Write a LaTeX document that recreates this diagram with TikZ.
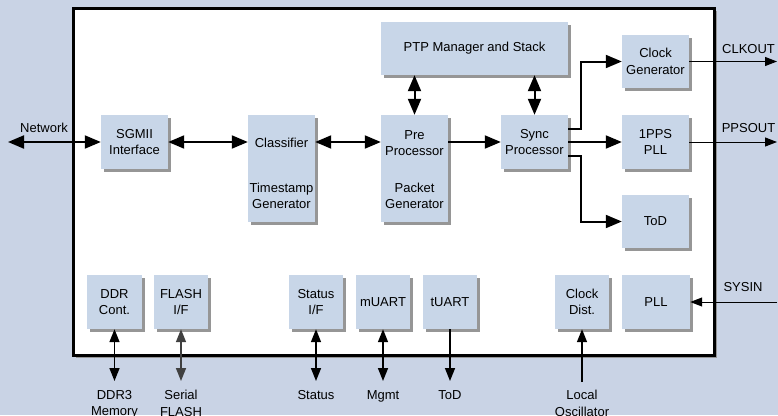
\documentclass[tikz,border=0pt]{standalone}
\usepackage{fontspec}
\setmainfont{Liberation Sans}
\usepackage{tikz}
\usetikzlibrary{arrows.meta}
\usetikzlibrary{shadows}
\definecolor{bgblue}{RGB}{201,211,229}
\definecolor{boxblue}{RGB}{200,214,232}
\definecolor{shadegray}{RGB}{150,150,150}

\begin{document}
\begin{tikzpicture}[x=1pt,y=-1pt,
  blk/.style={fill=boxblue, inner sep=0pt, align=center,
    font=\fontsize{13}{16.5}\selectfont,
    drop shadow={shadow xshift=3pt, shadow yshift=-3pt, fill=shadegray, opacity=1}},
  txt/.style={inner sep=0pt, align=center, font=\fontsize{13}{16.5}\selectfont},
  bigarr/.style={line width=2pt, >={Triangle[length=16pt,width=13pt]}},
  padarr/.style={line width=1.5pt, >={Triangle[length=13pt,width=10pt]}},
  pinarr/.style={line width=1pt, >={Triangle[length=12pt,width=9pt]}}]

\fill [color=bgblue] (0,0) rectangle (778,415);
\useasboundingbox (0,0) rectangle (778,415);

% chip outline
\filldraw [fill=white, draw=black, line width=3pt,
  drop shadow={shadow xshift=3pt, shadow yshift=-3pt, fill=shadegray, opacity=1}]
  (73,8) rectangle (714,355);

% upper blocks
\node [blk, minimum width=187pt, minimum height=53pt] (ptp) at (474.5,48.5) {PTP Manager and Stack};
\node [blk, minimum width=67pt, minimum height=54pt] (sgmii) at (134.5,142) {SGMII\\Interface};
\node [blk, minimum width=67pt, minimum height=107pt] (cls) at (281.5,168.5) {};
\node [blk, minimum width=67pt, minimum height=107pt] (pre) at (414.5,168.5) {};
\node [blk, minimum width=67pt, minimum height=54pt] (sync) at (534.5,142) {Sync\\Processor};
\node [blk, minimum width=67pt, minimum height=53pt] (clk) at (655.5,61.5) {Clock\\Generator};
\node [blk, minimum width=67pt, minimum height=54pt] (pps) at (655.5,142) {1PPS\\PLL};
\node [blk, minimum width=67pt, minimum height=53pt] (tod) at (655.5,221.5) {ToD};

\node [txt] (clsname) at (281.5,143) {Classifier};
\node [txt] (clsts) at (281.5,196) {Timestamp\\Generator};
\node [txt] (prename) at (414.5,143) {Pre\\Processor};
\node [txt] (prepkt) at (414.5,196) {Packet\\Generator};

% lower blocks
\node [blk, minimum width=55pt, minimum height=54pt] (ddr) at (114.5,302) {DDR\\Cont.};
\node [blk, minimum width=54pt, minimum height=54pt] (flash) at (181,302) {FLASH\\I/F};
\node [blk, minimum width=54pt, minimum height=54pt] (stat) at (316,302) {Status\\I/F};
\node [blk, minimum width=54pt, minimum height=54pt] (muart) at (383,302) {mUART};
\node [blk, minimum width=54pt, minimum height=54pt] (tuart) at (450,302) {tUART};
\node [blk, minimum width=54pt, minimum height=54pt] (cdist) at (582,302) {Clock\\Dist.};
\node [blk, minimum width=68pt, minimum height=54pt] (pll) at (656,302) {PLL};

% pins
\coordinate (netpin) at (8,142);
\coordinate (clkpin) at (777,61.5);
\coordinate (ppspin) at (777,142);
\coordinate (syspin) at (777,302);
\coordinate (ddrpin) at (114.5,381);
\coordinate (flashpin) at (181,381);
\coordinate (statpin) at (316,381);
\coordinate (mgmtpin) at (383,381);
\coordinate (todpin) at (450,381);
\coordinate (oscpin) at (582,382);

% data path
\draw [bigarr, <->] (netpin) -- (sgmii.west);
\draw [bigarr, <->] (sgmii.east) -- (cls.west |- sgmii.east);
\draw [bigarr, <->] (cls.east |- sgmii.east) -- (pre.west |- sgmii.east);
\draw [bigarr, ->] (pre.east |- sync.west) -- (sync.west);
\draw [bigarr, <->] (ptp.south -| pre.north) -- (pre.north);
\draw [bigarr, <->] (ptp.south -| sync.north) -- (sync.north);
\draw [bigarr, ->] ([yshift=13.5pt]sync.east) -- ++(13,0) |- (clk.west);
\draw [bigarr, ->] (sync.east) -- (pps.west);
\draw [bigarr, ->] ([yshift=-13.5pt]sync.east) -- ++(13,0) |- (tod.west);

% outputs and inputs
\draw [pinarr, ->] (clk.east) -- (clkpin);
\draw [pinarr, ->] (pps.east) -- (ppspin);
\draw [pinarr, ->] (syspin) -- (pll.east);

\draw [padarr, <->] (ddr.south) -- (ddrpin);
\draw [padarr, <->, color=black!75] (flash.south) -- (flashpin);
\draw [padarr, <->] (stat.south) -- (statpin);
\draw [padarr, <->] (muart.south) -- (mgmtpin);
\draw [padarr, ->] (tuart.south) -- (todpin);
\draw [padarr, ->] (oscpin) -- (cdist.south);

% pin labels
\node [txt] (netlbl) at (44,128) {Network};
\node [txt] (clklbl) at (748.5,49) {CLKOUT};
\node [txt] (ppslbl) at (748.5,128) {PPSOUT};
\node [txt] (syslbl) at (743,287) {SYSIN};
\node [txt, anchor=north] (ddrlbl) at (114.5,390) {DDR3\\Memory};
\node [txt, anchor=north] (flashlbl) at (181,390) {Serial\\FLASH};
\node [txt, anchor=north] (statlbl) at (316,390) {Status};
\node [txt, anchor=north] (mgmtlbl) at (383,390) {Mgmt};
\node [txt, anchor=north] (todlbl) at (450,390) {ToD};
\node [txt, anchor=north] (osclbl) at (582,390) {Local\\Oscillator};

\end{tikzpicture}
\end{document}
